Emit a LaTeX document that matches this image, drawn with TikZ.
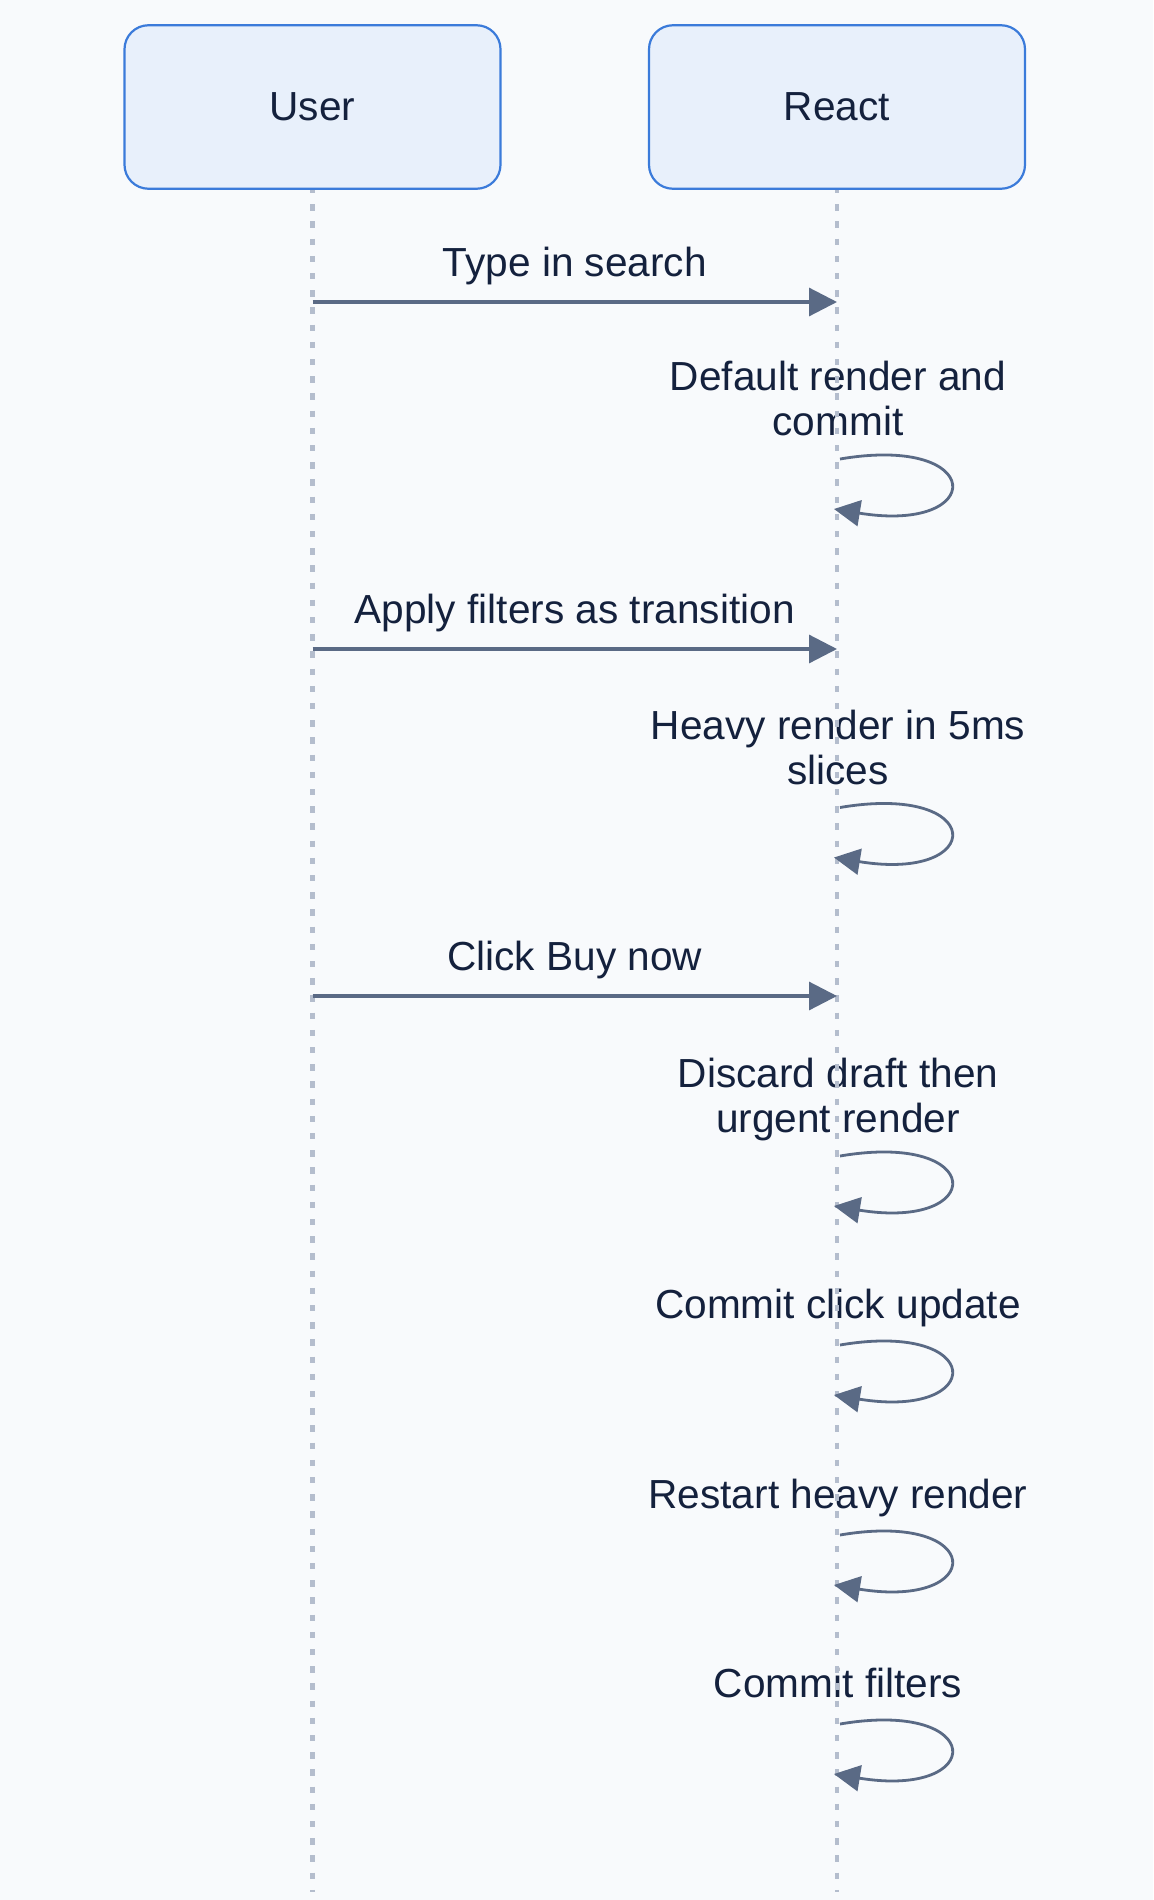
\documentclass[tikz,border=0pt]{standalone}
\usepackage{fontspec}
\setmainfont{Liberation Sans}
\usetikzlibrary{arrows.meta}
\definecolor{bgc}{HTML}{F8FAFC}
\definecolor{boxfill}{HTML}{E8F0FB}
\definecolor{boxline}{HTML}{3B7BDA}
\definecolor{txt}{HTML}{14213D}
\definecolor{arrc}{HTML}{5A6A85}
\definecolor{lifec}{HTML}{B4BDCD}
\begin{document}
\begin{tikzpicture}[x=0.5pt,y=-0.5pt,
  actor/.style={draw=boxline, fill=boxfill, line width=1.1pt, rounded corners=12pt,
    minimum width=188pt, minimum height=81.75pt, inner sep=0pt,
    font=\fontsize{20.3}{24}\selectfont, text=txt},
  life/.style={draw=lifec, line width=2.2pt, dash pattern=on 3.2pt off 5.4pt},
  msg/.style={draw=arrc, line width=1.6pt, -{Triangle[length=14pt,width=14pt]}},
  selfmsg/.style={draw=arrc, line width=1.4pt, -{Triangle[length=13pt,width=13pt]}},
  lbl/.style={font=\fontsize{20.3}{24}\selectfont, text=txt, anchor=base, inner sep=0pt}]
\path[use as bounding box, fill=bgc] (0,0) rectangle (1153,1900);

% labels
\node[lbl] (t1) at (574.75,276) {Type in search};
\node[lbl] (t2a) at (838,390.5) {Default render and};
\node[lbl] (t2b) at (838,435.5) {commit};
\node[lbl] (t3) at (574.75,623) {Apply filters as transition};
\node[lbl] (t4a) at (838,739) {Heavy render in 5ms};
\node[lbl] (t4b) at (838,784) {slices};
\node[lbl] (t5) at (574.75,970) {Click Buy now};
\node[lbl] (t6a) at (838,1087.5) {Discard draft then};
\node[lbl] (t6b) at (838,1132.5) {urgent render};
\node[lbl] (t7) at (838,1318) {Commit click update};
\node[lbl] (t8) at (838,1508) {Restart heavy render};
\node[lbl] (t9) at (838,1697) {Commit filters};

% lifelines
\coordinate (utop) at (312.5,187);
\coordinate (rtop) at (837,187);
\coordinate (uend) at (312.5,1892);
\coordinate (rend) at (837,1892);
\draw[life] (utop) -- (uend);
\draw[life] (rtop) -- (rend);

% actors
\node[actor] (user) at (312.5,107) {User};
\node[actor] (react) at (837,107) {React};

% messages
\coordinate (u1) at (312.5,302);   \coordinate (r1) at (837,302);
\coordinate (u2) at (312.5,649);   \coordinate (r2) at (837,649);
\coordinate (u3) at (312.5,996);   \coordinate (r3) at (837,996);
\draw[msg] (u1) -- (r1);
\draw[msg] (u2) -- (r2);
\draw[msg] (u3) -- (r3);

% self loops
\foreach \s [count=\i] in {459,807.5,1156,1345,1535,1724}{
  \coordinate (ls\i) at (840,\s);
  \coordinate (le\i) at (834,\s+50);
  \draw[selfmsg] (ls\i) .. controls +(147,-25) and +(153,25) .. (le\i);
}
\end{tikzpicture}
\end{document}
